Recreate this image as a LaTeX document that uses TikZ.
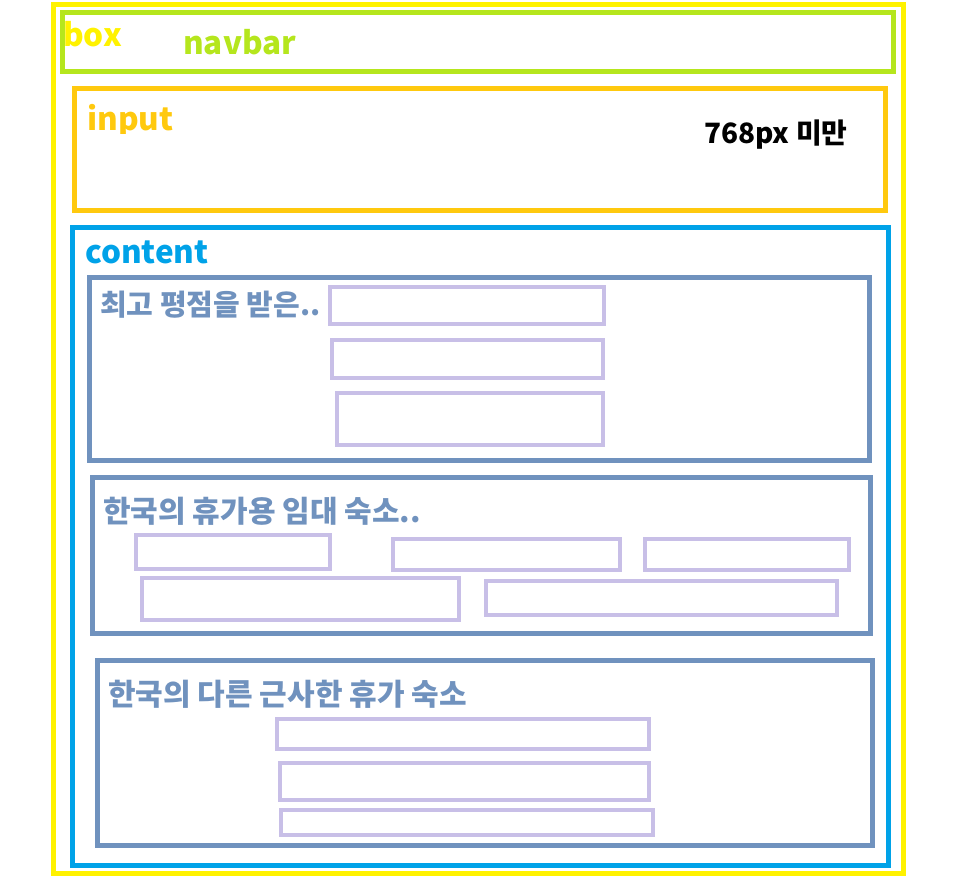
\documentclass[tikz,border=0pt]{standalone}
\usepackage{fontspec}
\setmainfont{Noto Sans CJK KR}
\definecolor{boxyellow}{HTML}{FFF200}
\definecolor{navgreen}{HTML}{B5E61D}
\definecolor{inputgold}{HTML}{FFC90E}
\definecolor{contentblue}{HTML}{00A2E8}
\definecolor{secsteel}{HTML}{7092BE}
\definecolor{itemlav}{HTML}{C8BFE7}
\begin{document}
\begin{tikzpicture}[x=1pt,y=-1pt,
  frame/.style={line width=5pt},
  item/.style={draw=itemlav,line width=4pt},
  tag/.style={anchor=base west,inner sep=0pt,font=\fontsize{31.5}{33}\selectfont\bfseries},
  title/.style={anchor=west,inner sep=0pt,text=secsteel,font=\fontsize{30}{32}\selectfont\bfseries}]
\useasboundingbox (0,0) rectangle (970,883);
\draw[frame,draw=boxyellow] (53,5) rectangle (903,873);
\draw[frame,draw=navgreen] (62,13) rectangle (893,72);
\draw[frame,draw=inputgold] (74,89) rectangle (885,210);
\draw[frame,draw=contentblue] (72,227) rectangle (888,865);
\draw[frame,draw=secsteel] (89,277) rectangle (869,460);
\draw[frame,draw=secsteel] (92,477) rectangle (870,633);
\draw[frame,draw=secsteel] (97,660) rectangle (872,845);

% items in the three sections
\foreach \xa/\ya/\xb/\yb in {330/287/604/324, 332/340/603/378, 337/393/603/445,
    136/535/330/569, 393/539/620/570, 645/539/849/570, 142/578/459/620, 486/581/837/615,
    277/719/649/749, 280/763/649/800, 281/810/653/835}
  \draw[item] (\xa,\ya) rectangle (\xb,\yb);

\node[tag,text=navgreen] (navlbl) at (183,55) {navbar};
\node[tag,text=boxyellow] (boxlbl) at (63,47) {box};
\begin{scope}
\clip (80,95) rectangle (200,133);
\node[tag,text=inputgold] (inputlbl) at (87,131) {input};
\end{scope}
\node[tag,text=black,font=\fontsize{28}{30}\selectfont\bfseries] (widthlbl) at (704,143) {768px 미만};
\node[tag,text=contentblue] (contentlbl) at (85,263) {content};
\node[title,font=\fontsize{29}{31}\selectfont\bfseries] (toplbl) at (100,305) {최고 평점을 받은..};
\node[title] (rentlbl) at (103,511) {한국의 휴가용 임대 숙소..};
\node[title] (otherlbl) at (108,694) {한국의 다른 근사한 휴가 숙소};
\end{tikzpicture}
\end{document}
